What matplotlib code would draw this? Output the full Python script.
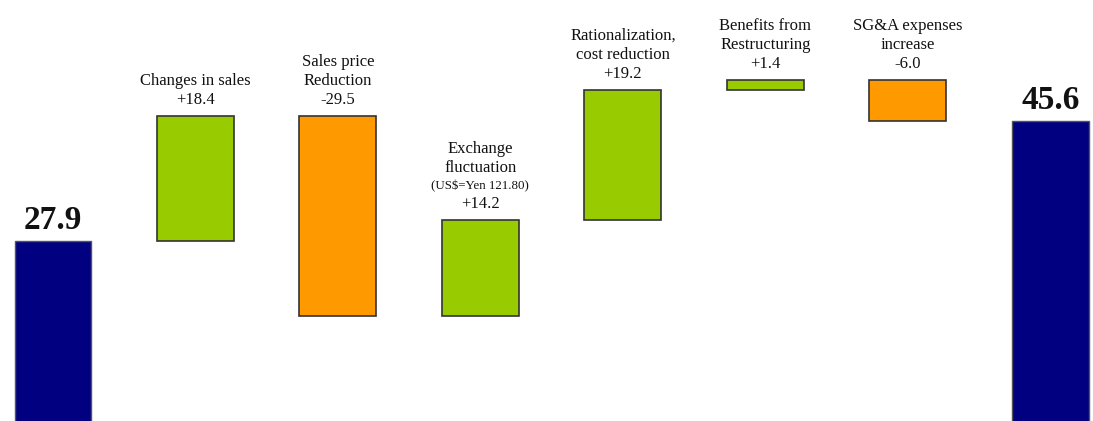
import numpy as np
import matplotlib.pyplot as plt

# waterfall data (billion yen)
start_value = 27.9
end_value = 45.6
step_names = [['Changes in sales'], ['Sales price', 'Reduction'], ['Exchange', 'fluctuation'],
              ['Rationalization,', 'cost reduction'], ['Benefits from', 'Restructuring'],
              ['SG&A expenses', 'increase']]
step_notes = ['', '', '(US$=Yen 121.80)', '', '', '']
step_values = [18.4, -29.5, 14.2, 19.2, 1.4, -6.0]

NAVY = '#000080'
GREEN = '#99CC00'
ORANGE = '#FF9900'

plt.rcParams['font.family'] = ['Liberation Serif', 'DejaVu Serif']

fig = plt.figure(figsize=(10.93, 4.21), dpi=100)
ax = fig.add_axes([0, 0, 1, 1])
width = 0.54


def label(x, y, text, dy, size, **kw):
    ax.annotate(text, (x, y), xytext=(0, dy), textcoords='offset pixels',
                ha='center', va='center', fontsize=size, color='#111111', **kw)


# start / end bars
ax.bar(0, start_value, width, color=NAVY, edgecolor='#555555', linewidth=1)
ax.bar(len(step_values) + 1, end_value, width, color=NAVY, edgecolor='#555555', linewidth=1)
for x, v in [(0, start_value), (len(step_values) + 1, end_value)]:
    label(x, v, f'{v:.1f}', 20, 24, fontweight='bold')

# step bars
level = start_value
for i, (name, note, v) in enumerate(zip(step_names, step_notes, step_values)):
    x = i + 1
    bottom = level if v > 0 else level + v
    ax.bar(x, abs(v), width, bottom=bottom, color=GREEN if v > 0 else ORANGE,
           edgecolor='#333333', linewidth=1.2)
    top = bottom + abs(v)
    level += v
    label(x, top, f'{v:+.1f}', 16, 12)
    dy = 35
    if note:
        label(x, top, note, 33, 9.3)
        dy = 52
    for line in reversed(name):
        label(x, top, line, dy, 12)
        dy += 19

ax.set_xlim(-0.372, 7.30)
ax.set_ylim(1.2, 63.5)
ax.axis('off')

fig.savefig('out.png', dpi=100)
